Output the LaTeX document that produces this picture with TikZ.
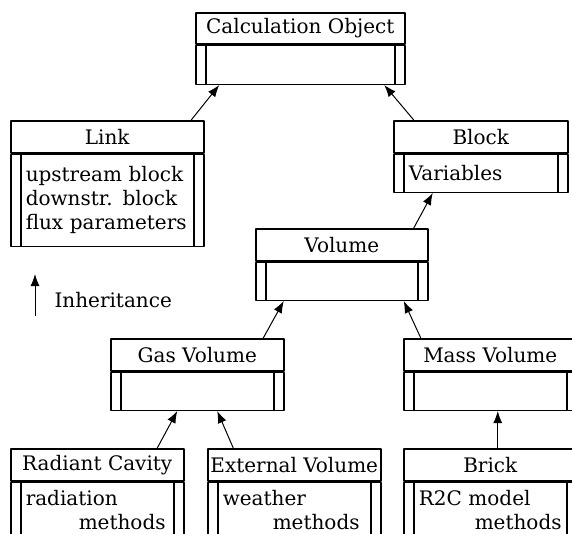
\documentclass[tikz,border=0pt]{standalone}
\usepackage{fontspec}
\setmainfont{DejaVu Serif}
\usetikzlibrary{positioning,arrows.meta}
\begin{document}
\begin{tikzpicture}[x=1pt,y=-1pt,line join=round,>={Latex[length=12pt,width=9pt]},
	font=\fontsize{20}{24}\selectfont,
	cls/.style={draw,line width=1.5pt,inner sep=0pt,minimum height=31pt,minimum width=#1,anchor=north west},
	clsbody/.style={draw,line width=1.5pt,inner xsep=15pt,inner ysep=0pt,text width=#1,align=left,minimum height=38pt,
		path picture={\draw[line width=1.5pt]([xshift=10pt]path picture bounding box.north west)--([xshift=10pt]path picture bounding box.south west)
			([xshift=-10pt]path picture bounding box.north east)--([xshift=-10pt]path picture bounding box.south east);}},
	inh/.style={->,line width=1pt}]
	\useasboundingbox(0,0)rectangle(572,533);
	\clip(0,0)rectangle(572,533);
	
	\node[cls=209pt] (calc) at (195,12) {Calculation Object};
	\node[clsbody=179pt,minimum height=39pt,below=0pt of calc] (calcbody) {};
	
	\node[cls=193pt,minimum height=32pt] (link) at (10,120) {Link};
	\node[clsbody=163pt,minimum height=92pt,below=0pt of link] (linkbody) {upstream block\\downstr. block\\flux parameters};
	
	\node[cls=174pt,minimum height=32pt] (block) at (393,120) {Block};
	\node[clsbody=144pt,below=0pt of block] (blockbody) {Variables};
	
	\node[cls=172pt,minimum height=32pt] (volume) at (255,228) {Volume};
	\node[clsbody=142pt,below=0pt of volume] (volumebody) {};
	
	\node[cls=173pt,minimum height=32pt] (gas) at (110,338) {Gas Volume};
	\node[clsbody=143pt,below=0pt of gas] (gasbody) {};
	
	\node[cls=173pt,minimum height=32pt] (mass) at (403,338) {Mass Volume};
	\node[clsbody=143pt,below=0pt of mass] (massbody) {};
	
	\node[cls=173pt,minimum height=32pt] (radiant) at (10,448) {Radiant Cavity};
	\node[clsbody=143pt,minimum height=55pt,below=0pt of radiant] (radiantbody) {radiation\\\hspace*{53pt}\mbox{methods}};
	
	\node[cls=173pt,minimum height=32pt] (external) at (207,448) {External Volume};
	\node[clsbody=143pt,minimum height=55pt,below=0pt of external] (externalbody) {weather\\\hspace*{50pt}\mbox{methods}};
	
	\node[cls=173pt,minimum height=32pt] (brick) at (403,448) {Brick};
	\node[clsbody=143pt,minimum height=55pt,below=0pt of brick] (brickbody) {R2C model\\\hspace*{56pt}\mbox{methods}};
	
	\draw[inh]([xshift=84pt]link.north)--([xshift=-81pt]calcbody.south);
	\draw[inh]([xshift=-67pt]block.north)--([xshift=84pt]calcbody.south);
	\draw[inh]([xshift=72pt]volume.north)--([xshift=-48pt]blockbody.south);
	\draw[inh]([xshift=66pt]gas.north)--([xshift=-58pt]volumebody.south);
	\draw[inh]([xshift=-69.5pt]mass.north)--([xshift=62pt]volumebody.south);
	\draw[inh]([xshift=60pt]radiant.north)--([xshift=-20pt]gasbody.south);
	\draw[inh]([xshift=-61pt]external.north)--([xshift=20pt]gasbody.south);
	\draw[inh]([xshift=7.5pt]brick.north)--([xshift=7.5pt]massbody.south);
	
	\coordinate (inhlo) at (35,316);
	\coordinate (inhhi) at (35,274);
	\draw[inh](inhlo)--(inhhi);
	\node[anchor=west] (inhtext) at (51,300) {Inheritance};
\end{tikzpicture}
\end{document}
